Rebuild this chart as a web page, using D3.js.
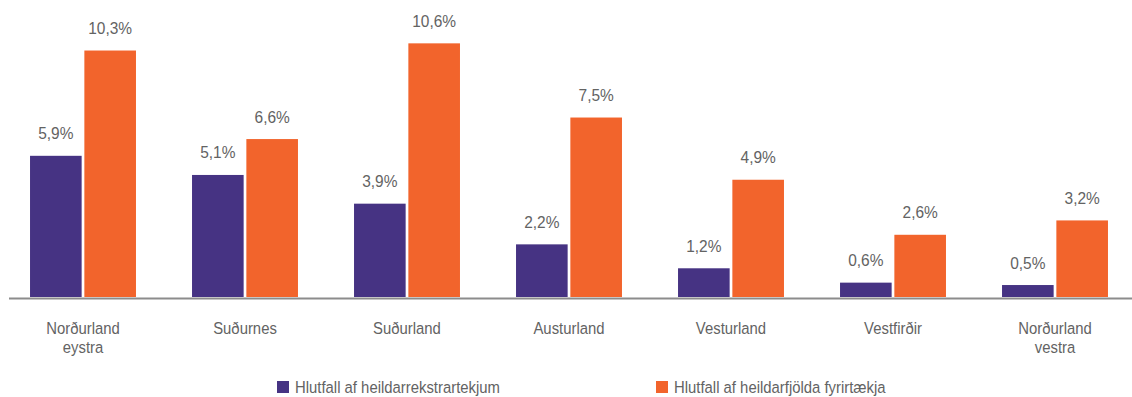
<!DOCTYPE html>
<html>
<head>
<meta charset="utf-8">
<script src="https://cdn.jsdelivr.net/npm/d3@7/dist/d3.min.js"></script>
<style>
  html, body { margin: 0; padding: 0; background: #fff; }
  svg text { font-family: "Liberation Sans", Arial, sans-serif; fill: #636363; }
</style>
</head>
<body>
<svg id="chart" width="1132" height="397"></svg>
<script>
// Regions and their two shares (%)
const categories = [
  ["Norðurland", "eystra"],
  ["Suðurnes"],
  ["Suðurland"],
  ["Austurland"],
  ["Vesturland"],
  ["Vestfirðir"],
  ["Norðurland", "vestra"]
];
const seriesNames = ["Hlutfall af heildarrekstrartekjum", "Hlutfall af heildarfjölda fyrirtækja"];
const revenueShare = [5.9, 5.1, 3.9, 2.2, 1.2, 0.6, 0.5];
const companyShare = [10.3, 6.6, 10.6, 7.5, 4.9, 2.6, 3.2];
const seriesColors = ["#463383", "#f2642c"];

const svg = d3.select("#chart");
const keys = categories.map(c => c.join(" "));
const seriesValues = [revenueShare, companyShare];

// condensed look for all labels
const narrow = 0.875;
const narrowValues = 0.91;

const baseY = 297;
const y = d3.scaleLinear().domain([0, 12]).range([baseY, baseY - 12 * 23.93]);

const x0 = d3.scaleBand()
  .domain(keys)
  .range([2, 1136])
  .paddingInner(0.346)
  .paddingOuter(0.173);

const x1 = d3.scaleBand()
  .domain(d3.range(seriesNames.length))
  .range([0, x0.bandwidth()])
  .paddingInner(0.05);

const fmt = v => d3.format(".1f")(v).replace(".", ",") + "%";

// Bars and value labels
const groups = svg.append("g").selectAll("g")
  .data(keys)
  .join("g")
  .attr("transform", d => `translate(${x0(d)},0)`);

groups.each(function(k, i) {
  const g = d3.select(this);
  seriesValues.forEach((vals, s) => {
    const v = vals[i];
    g.append("rect")
      .attr("x", x1(s))
      .attr("y", y(v))
      .attr("width", x1.bandwidth())
      .attr("height", baseY - y(v))
      .attr("fill", seriesColors[s]);
    g.append("text")
      .attr("transform", `translate(${x1(s) + x1.bandwidth() / 2},${y(v) - 16.5}) scale(${narrowValues},1)`)
      .attr("text-anchor", "middle")
      .attr("font-size", 17)
      .text(fmt(v));
  });
});

// Baseline axis
svg.append("line")
  .attr("x1", 9).attr("x2", 1132)
  .attr("y1", baseY + 1.5).attr("y2", baseY + 1.5)
  .attr("stroke", "#8c8c8c")
  .attr("stroke-width", 2);

// Category labels (multi-line)
const catLabels = svg.append("g").selectAll("text")
  .data(categories)
  .join("text")
  .attr("text-anchor", "middle")
  .attr("font-size", 17)
  .attr("transform", (d, i) => `translate(${x0(keys[i]) + x0.bandwidth() / 2},334) scale(${narrow},1)`);
catLabels.selectAll("tspan")
  .data(d => d)
  .join("tspan")
  .attr("x", 0)
  .attr("y", (d, j) => j * 19)
  .text(d => d);

// Legend
const legendX = [277, 656];
const legend = svg.append("g").selectAll("g")
  .data(seriesNames)
  .join("g")
  .attr("transform", (d, i) => `translate(${legendX[i]},381)`);
legend.append("rect")
  .attr("width", 12).attr("height", 12)
  .attr("fill", (d, i) => seriesColors[i]);
legend.append("text")
  .attr("transform", `translate(18,12) scale(${narrow},1)`)
  .attr("font-size", 17)
  .text(d => d);
</script>
</body>
</html>
